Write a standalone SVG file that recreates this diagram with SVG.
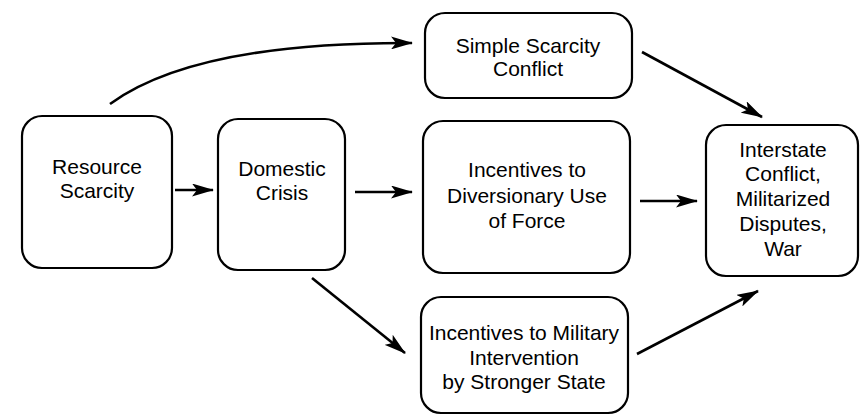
<svg xmlns="http://www.w3.org/2000/svg" width="863" height="416" viewBox="0 0 863 416">
<style>
.box{fill:#fff;stroke:#000;stroke-width:2.2}
.t{font-family:"Liberation Sans",Arial,Helvetica,sans-serif;font-size:21px;fill:#000;text-anchor:middle}
.c{fill:none;stroke:#000;stroke-width:2.6}
</style>
<defs>
<marker id="ah" markerUnits="userSpaceOnUse" markerWidth="22" markerHeight="13" refX="21" refY="6.5" orient="auto" viewBox="0 0 22 13">
<path d="M0,0 L22,6.5 L0,13 L5,6.5 z" fill="#000"/>
</marker>
</defs>
<rect width="863" height="416" fill="#fff"/>
<g id="resource-scarcity">
<rect class="box" x="22" y="116" width="150" height="152" rx="20"/>
<text class="t" x="97" y="174">Resource</text>
<text class="t" x="97" y="198">Scarcity</text>
</g>
<g id="domestic-crisis">
<rect class="box" x="218" y="119" width="127" height="151" rx="20"/>
<text class="t" x="282" y="176">Domestic</text>
<text class="t" x="282" y="200">Crisis</text>
</g>
<g id="simple-scarcity-conflict">
<rect class="box" x="425" y="13" width="207" height="85" rx="20"/>
<text class="t" x="528" y="53">Simple Scarcity</text>
<text class="t" x="528" y="76">Conflict</text>
</g>
<g id="diversionary">
<rect class="box" x="423" y="121" width="207" height="152" rx="20"/>
<text class="t" x="527" y="177">Incentives to</text>
<text class="t" x="527" y="203">Diversionary Use</text>
<text class="t" x="527" y="228">of Force</text>
</g>
<g id="military-intervention">
<rect class="box" x="421" y="297" width="207" height="116" rx="20"/>
<text class="t" x="524" y="340">Incentives to Military</text>
<text class="t" x="524" y="365">Intervention</text>
<text class="t" x="524" y="389">by Stronger State</text>
</g>
<g id="interstate-conflict">
<rect class="box" x="706" y="125" width="152" height="151" rx="20"/>
<text class="t" x="783" y="157">Interstate</text>
<text class="t" x="783" y="181">Conflict,</text>
<text class="t" x="783" y="206">Militarized</text>
<text class="t" x="783" y="231">Disputes,</text>
<text class="t" x="783" y="256">War</text>
</g>
<g id="connectors">
<path class="c" d="M110,104 Q195,42 412,43" marker-end="url(#ah)"/>
<path class="c" d="M175,190 L213,190" marker-end="url(#ah)"/>
<path class="c" d="M355,192 L412,192" marker-end="url(#ah)"/>
<path class="c" d="M640,201 L697,201" marker-end="url(#ah)"/>
<path class="c" d="M642,52 L762,117" marker-end="url(#ah)"/>
<path class="c" d="M312,278 L405,353" marker-end="url(#ah)"/>
<path class="c" d="M637,354 L758,291" marker-end="url(#ah)"/>
</g>
</svg>
